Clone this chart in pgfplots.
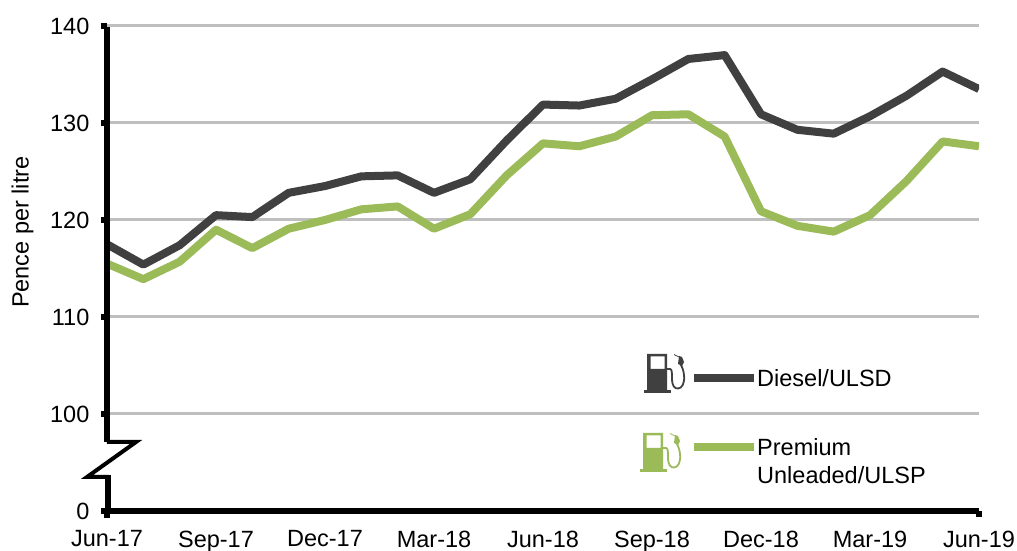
\documentclass[border=0pt]{standalone}
\usepackage{pgfplots}
\pgfplotsset{compat=1.18}
\usepackage{fontspec}
\setmainfont{Liberation Sans}
\definecolor{diesel}{HTML}{404040}
\definecolor{premium}{HTML}{9BBB59}
\definecolor{gridgrey}{HTML}{BFBFBF}

% petrol pump icon, origin at bottom left of the base, units = px
\newcommand{\pump}[1]{%
  \fill[#1] (0,0) rectangle (27,2.5);
  \fill[#1,even odd rule] (3,2.5) -- (3,39) -- (23,39) -- (23,2.5) -- cycle
     (6.5,24) rectangle (20.5,36.5);
  \draw[#1,line width=1.8pt,line cap=round] (23,24) -- (26,24) .. controls (28,24) and (28,20) .. (28,15)
     .. controls (28,6) and (31,4.5) .. (34,4.5) .. controls (38,4.5) and (41,10) .. (40,18) .. controls (39.5,23) and (38,26) .. (37,28);
  \fill[#1] (34,29) -- (38,27) -- (40,31) -- (38,36) -- (35,37) -- cycle;
  \draw[#1,line width=0.7pt] (35,36) -- (30,38.5);
}

\begin{document}
\begin{tikzpicture}[x=1pt,y=1pt]
\path[use as bounding box] (-107,-40) rectangle (910,511);
\begin{axis}[
    at={(0,0)},
    anchor=south west,
    scale only axis,
    width=872pt,
    height=485pt,
    xmin=0, xmax=24,
    ymin=90, ymax=140,
    axis x line=bottom,
    axis y line=left,
    axis line style={-,draw=none},
    xtick={0,3,...,24},
    xticklabels={Jun-17,Sep-17,Dec-17,Mar-18,Jun-18,Sep-18,Dec-18,Mar-19,Jun-19},
    ytick={90,100,110,120,130,140},
    yticklabels={0,100,110,120,130,140},
    x tick style={draw=none},
    y tick style={draw=none},
    ymajorgrids,
    grid style={gridgrey,line width=3pt},
    tick label style={font=\fontsize{23.5}{27}\selectfont},
    xticklabel style={yshift=-14pt},
    yticklabel style={xshift=-12pt},
    ylabel={Pence per litre},
    ylabel style={font=\fontsize{23.5}{27}\selectfont,at={(axis description cs:0,0.575)},anchor=south,yshift=70pt},
    clip=true,
]
\addplot[diesel,line width=8pt,line join=round] coordinates {
 (0,117.5)(1,115.4)(2,117.4)(3,120.5)(4,120.3)(5,122.8)(6,123.5)(7,124.5)(8,124.6)
 (9,122.8)(10,124.2)(11,128.2)(12,131.9)(13,131.8)(14,132.5)(15,134.5)(16,136.6)
 (17,137.0)(18,130.9)(19,129.3)(20,128.9)(21,130.7)(22,132.8)(23,135.3)(24,133.5)
};
\addplot[premium,line width=8pt,line join=round] coordinates {
 (0,115.5)(1,113.9)(2,115.7)(3,119.0)(4,117.1)(5,119.1)(6,120.0)(7,121.1)(8,121.4)
 (9,119.1)(10,120.6)(11,124.6)(12,127.9)(13,127.6)(14,128.6)(15,130.8)(16,130.9)
 (17,128.6)(18,120.9)(19,119.4)(20,118.8)(21,120.5)(22,124.0)(23,128.1)(24,127.6)
};
\end{axis}
% broken y axis, drawn in page px relative to the axis corner
\draw[black,line width=6pt] (0,0) -- (872,0);
\draw[black,line width=6pt] (0,484) -- (0,69);
\draw[black,line width=4pt,line join=miter] (0,69) -- (29,69) -- (-20,34) -- (2,34);
\draw[black,line width=6pt] (1,36) -- (1,0);
\foreach \yy in {0,97,194,291,388,485} \draw[black,line width=6pt] (-6,\yy) -- (0,\yy);
\draw[black,line width=6pt] (0,0) -- (0,-7);
\draw[black,line width=6pt] (872,0) -- (872,-6);
% legend
\begin{scope}[shift={(537,118)}]\pump{diesel}\end{scope}
\begin{scope}[shift={(533,39)}]\pump{premium}\end{scope}
\draw[diesel,line width=8pt] (587,133) -- (647,133);
\draw[premium,line width=8pt] (587,64) -- (647,64);
\node[anchor=west,inner sep=0pt,font=\fontsize{23.5}{27}\selectfont] at (650,133) {Diesel/ULSD};
\node[anchor=north west,inner sep=0pt,align=left,font=\fontsize{23.5}{28}\selectfont] at (650,73) {Premium\\Unleaded/ULSP};
\end{tikzpicture}
\end{document}
